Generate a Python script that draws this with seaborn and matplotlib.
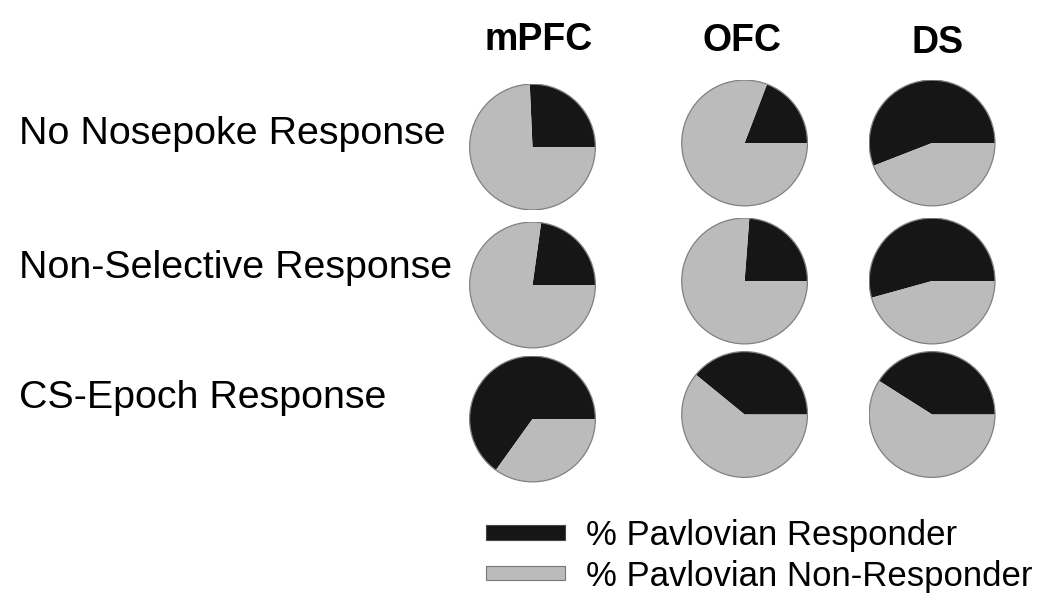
import numpy as np
import matplotlib
matplotlib.use('Agg')
import matplotlib.pyplot as plt
from matplotlib.patches import Patch, Circle
import seaborn as sns

# Data: % Pavlovian responders per response class and region

regions = ['mPFC', 'OFC', 'DS']
response_types = ['No Nosepoke Response', 'Non-Selective Response', 'CS-Epoch Response']
responder_pct = {
    'mPFC': [25.7, 22.8, 65.1],
    'OFC': [19.2, 23.8, 39.1],
    'DS': [55.9, 54.3, 41.0],
}
legend_labels = ['% Pavlovian Responder', '% Pavlovian Non-Responder']

sns.set_theme(style='white')
plt.rcParams['font.family'] = ['Liberation Sans', 'DejaVu Sans']
plt.rcParams['text.color'] = 'black'

colors = ['#161616', '#bbbbbb']
W, H = 1050, 604
fig = plt.figure(figsize=(W / 100, H / 100), dpi=100)

# pixel layout of the pie grid
col_x = [532.5, 744.6, 932.1]
row_y = [[147, 285, 419], [143, 281, 414.5], [143, 281, 414.5]]
rad = 63.5

for c, reg in enumerate(regions):
    for r, resp in enumerate(response_types):
        x0 = (col_x[c] - rad) / W
        y0 = 1 - (row_y[c][r] + rad) / H
        ax = fig.add_axes([x0, y0, 2 * rad / W, 2 * rad / H])
        p = responder_pct[reg][r]
        ax.pie([p, 100 - p], colors=colors, startangle=0, counterclock=True,
               radius=1, wedgeprops=dict(linewidth=0))
        ax.add_patch(Circle((0, 0), 1, fill=False, edgecolor='#808080', linewidth=0.9))
        ax.set_xlim(-1.01, 1.01)
        ax.set_ylim(-1.01, 1.01)
        ax.axis('off')

# column titles
title_x = [538.5, 742.5, 937.5]
title_base = [50.5, 51, 53]
for reg, tx, ty in zip(regions, title_x, title_base):
    fig.text(tx / W, 1 - ty / H, reg, ha='center', va='baseline', fontsize=27, fontweight='bold')

# row labels
label_base = [144.5, 278.5, 408.5]
for resp, ly in zip(response_types, label_base):
    fig.text(19 / W, 1 - ly / H, resp, ha='left', va='baseline', fontsize=28.4)

handles = [Patch(facecolor=colors[0], edgecolor='#444444', linewidth=0.8),
           Patch(facecolor=colors[1], edgecolor='#777777', linewidth=0.8)]
fig.legend(handles, legend_labels, loc='upper left', bbox_to_anchor=(485.5 / W, 1 - 519 / H),
           frameon=False, fontsize=25, handlelength=2.3, handleheight=0.27,
           handletextpad=0.6, labelspacing=0.22, borderpad=0, borderaxespad=0)

fig.savefig('out.png', dpi=100)
